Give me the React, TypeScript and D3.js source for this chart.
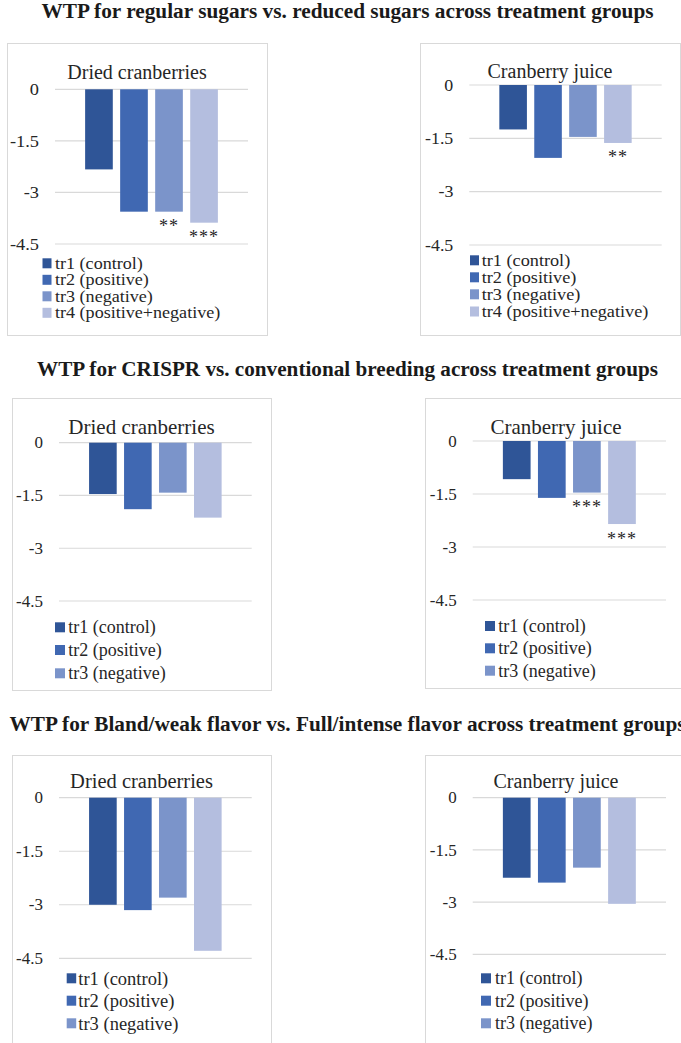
import React from "react";
import * as d3 from "d3";

const categories = ["tr1 (control)", "tr2 (positive)", "tr3 (negative)", "tr4 (positive+negative)"];
const colors = ["#2F5597", "#4068B2", "#7B94CA", "#B4BEDF"];
const yTicks = [0, -1.5, -3, -4.5];
const tickLabels = ["0", "-1.5", "-3", "-4.5"];

const mainTitles = [
  "WTP for regular sugars vs. reduced sugars across treatment groups",
  "WTP for CRISPR vs. conventional breeding across treatment groups",
  "WTP for Bland/weak flavor vs. Full/intense flavor across treatment groups",
];
const productTitles = ["Dried cranberries", "Cranberry juice"];

const sugarDried = [-2.33, -3.56, -3.56, -3.88];
const sugarJuice = [-1.25, -2.05, -1.46, -1.63];
const crisprDried = [-1.46, -1.89, -1.42, -2.13];
const crisprJuice = [-1.08, -1.61, -1.46, -2.35];
const flavorDried = [-3.0, -3.15, -2.8, -4.29];
const flavorJuice = [-2.3, -2.44, -2.01, -3.05];

const sugarDriedSig = ["", "", "**", "***"];
const sugarJuiceSig = ["", "", "", "**"];
const crisprDriedSig = ["", "", "", ""];
const crisprJuiceSig = ["", "", "***", "***"];
const flavorDriedSig = ["", "", "", ""];
const flavorJuiceSig = ["", "", "", ""];

const FONT = "'Liberation Serif', 'Times New Roman', serif";
const INK = "#262626";

type PanelCfg = {
  frame: [number, number, number, number];
  gx0: number;
  gx1: number;
  y0: number;
  y1: number;
  title: string;
  titleY: number;
  titleSize: number;
  values: number[];
  sig: string[];
  legendN: number;
  swX: number;
  sw: number;
  textX: number;
  rowY: number[];
  legSize: number;
  legSx: number;
  tickSize: number;
  tickSx: number;
};

const panels: PanelCfg[] = [
  {
    frame: [7, 43, 260, 292], gx0: 55, gx1: 248, y0: 89.3, y1: 244,
    title: productTitles[0], titleY: 79, titleSize: 20,
    values: sugarDried, sig: sugarDriedSig, legendN: 4,
    swX: 42.5, sw: 9, textX: 55, rowY: [263.3, 279.8, 296.3, 312.8], legSize: 16, legSx: 1.13,
    tickSize: 17, tickSx: 1.08,
  },
  {
    frame: [420, 43, 260, 292], gx0: 469.3, gx1: 661.7, y0: 85, y1: 245,
    title: productTitles[1], titleY: 77.7, titleSize: 20,
    values: sugarJuice, sig: sugarJuiceSig, legendN: 4,
    swX: 470, sw: 9, textX: 481.7, rowY: [260.3, 277.3, 294.3, 311.5], legSize: 16, legSx: 1.14,
    tickSize: 17, tickSx: 1.05,
  },
  {
    frame: [12, 398, 259, 292], gx0: 59, gx1: 251.7, y0: 442.7, y1: 601,
    title: productTitles[0], titleY: 434, titleSize: 21,
    values: crisprDried, sig: crisprDriedSig, legendN: 3,
    swX: 55, sw: 10, textX: 68.3, rowY: [627.3, 650, 673.3], legSize: 18, legSx: 1,
    tickSize: 16.5, tickSx: 1.03,
  },
  {
    frame: [425, 398, 262, 290], gx0: 472.7, gx1: 666, y0: 441, y1: 600,
    title: productTitles[1], titleY: 434, titleSize: 21,
    values: crisprJuice, sig: crisprJuiceSig, legendN: 3,
    swX: 485, sw: 10, textX: 498.3, rowY: [626, 648.3, 670.7], legSize: 18, legSx: 1,
    tickSize: 16.5, tickSx: 1.03,
  },
  {
    frame: [12, 755, 259, 300], gx0: 59, gx1: 251.7, y0: 797.7, y1: 958.3,
    title: productTitles[0], titleY: 787.7, titleSize: 20.5,
    values: flavorDried, sig: flavorDriedSig, legendN: 3,
    swX: 66.7, sw: 9.5, textX: 78.3, rowY: [978.3, 1000.7, 1023.3], legSize: 18.5, legSx: 1,
    tickSize: 16.5, tickSx: 1.03,
  },
  {
    frame: [425, 755, 262, 300], gx0: 472.7, gx1: 666, y0: 797.7, y1: 954.3,
    title: productTitles[1], titleY: 787.7, titleSize: 20,
    values: flavorJuice, sig: flavorJuiceSig, legendN: 3,
    swX: 481, sw: 10, textX: 495, rowY: [978.3, 1000.7, 1023.3], legSize: 18, legSx: 1,
    tickSize: 16.5, tickSx: 1.03,
  },
];

function SText({ x, y, sx = 1, size, anchor = "start", dy, children, weight }: any) {
  return (
    <text
      transform={`translate(${x},${y}) scale(${sx},1)`}
      dy={dy}
      textAnchor={anchor}
      fontFamily={FONT}
      fontSize={size}
      fontWeight={weight}
      fill={INK}
    >
      {children}
    </text>
  );
}

function Panel({ p }: { p: PanelCfg }) {
  const [fx, fy, fw, fh] = p.frame;
  const x = d3.scaleBand<string>().domain(categories).range([p.gx0, p.gx1]).paddingInner(0.21).paddingOuter(0.86);
  const y = d3.scaleLinear().domain([0, -4.5]).range([p.y0, p.y1]);
  const cx = fx + fw / 2;
  return (
    <g>
      <rect x={fx + 0.5} y={fy + 0.5} width={fw} height={fh} fill="#fff" stroke="#d9d9d9" strokeWidth={1} />
      <SText x={cx} y={p.titleY} anchor="middle" size={p.titleSize}>
        {p.title}
      </SText>
      {yTicks.map((t, i) => (
        <g key={i}>
          <line x1={p.gx0} x2={p.gx1} y1={y(t)} y2={y(t)} stroke="#d9d9d9" strokeWidth={1.2} />
          <SText x={p.gx0 - 16} y={y(t)} dy="0.34em" anchor="end" size={p.tickSize} sx={p.tickSx}>
            {tickLabels[i]}
          </SText>
        </g>
      ))}
      {p.values.map((v, i) => {
        const bx = x(categories[i])!;
        const top = y(Math.max(0, v));
        const bot = y(Math.min(0, v));
        return (
          <g key={i}>
            <rect x={bx} y={top} width={x.bandwidth()} height={bot - top} fill={colors[i]} />
            {p.sig[i] ? (
              <text x={bx + x.bandwidth() / 2} y={bot + 12 + 8.5} textAnchor="middle" fontFamily={FONT} fontSize={18} fill={INK} letterSpacing={1}>
                {p.sig[i]}
              </text>
            ) : null}
          </g>
        );
      })}
      {categories.slice(0, p.legendN).map((c, i) => (
        <g key={c}>
          <rect x={p.swX} y={p.rowY[i] - 5} width={p.sw} height={10} fill={colors[i]} />
          <SText x={p.textX} y={p.rowY[i]} dy="0.34em" size={p.legSize} sx={p.legSx}>
            {c}
          </SText>
        </g>
      ))}
    </g>
  );
}

export default function App() {
  const titleYs = [18.3, 376, 731];
  const titleLens = [612, 621, 676];
  return (
    <svg width={681} height={1043} style={{ position: "absolute", left: 0, top: 0, background: "#fff" }}>
      <rect x={0} y={0} width={681} height={1043} fill="#fff" />
      {mainTitles.map((t, i) => (
        <text
          key={i}
          x={347.5}
          y={titleYs[i]}
          textAnchor="middle"
          fontFamily={FONT}
          fontWeight="bold"
          fontSize={20}
          fill="#1a1a1a"
          textLength={titleLens[i]}
          lengthAdjust="spacingAndGlyphs"
        >
          {t}
        </text>
      ))}
      {panels.map((p, i) => (
        <Panel key={i} p={p} />
      ))}
    </svg>
  );
}
